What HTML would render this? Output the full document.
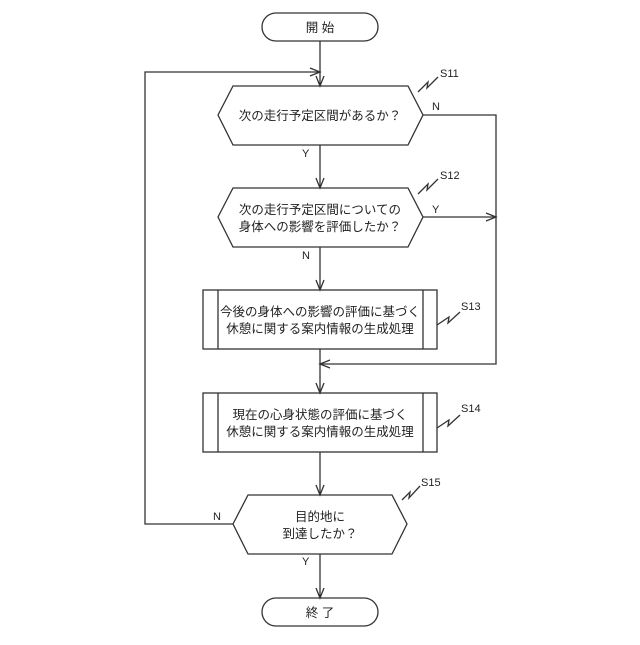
<!DOCTYPE html>
<html><head><meta charset="utf-8"><style>
body{margin:0;background:#fff}
svg text{font-family:"Liberation Sans","Noto Sans CJK JP",sans-serif;fill:#222}
</style></head><body>
<svg width="640" height="640" viewBox="0 0 640 640" xmlns="http://www.w3.org/2000/svg">
<g fill="none" stroke="#333" stroke-width="1.3">
<rect x="262" y="13" width="116" height="28" rx="14"/>
<rect x="262" y="598" width="116" height="28" rx="14"/>
<polygon points="218,115 233,86 408,86 423,115 408,145 233,145"/>
<polygon points="218,217 233,188 408,188 423,217 408,247 233,247"/>
<rect x="203" y="290" width="234" height="59"/><line x1="218" y1="290" x2="218" y2="349"/><line x1="423" y1="290" x2="423" y2="349"/>
<rect x="203" y="393" width="234" height="59"/><line x1="218" y1="393" x2="218" y2="452"/><line x1="423" y1="393" x2="423" y2="452"/>
<polygon points="233,524 248,495 392,495 407,524 392,554 248,554"/>
<!-- main vertical -->
<line x1="320" y1="41" x2="320" y2="86"/>
<line x1="320" y1="145" x2="320" y2="188"/>
<line x1="320" y1="247" x2="320" y2="290"/>
<line x1="320" y1="349" x2="320" y2="393"/>
<line x1="320" y1="452" x2="320" y2="495"/>
<line x1="320" y1="554" x2="320" y2="598"/>
<!-- arrowheads down -->
<polyline points="316,76 320,86 324,76"/>
<polyline points="316,178 320,188 324,178"/>
<polyline points="316,280 320,290 324,280"/>
<polyline points="316,383 320,393 324,383"/>
<polyline points="316,485 320,495 324,485"/>
<polyline points="316,588 320,598 324,588"/>
<!-- right branch -->
<polyline points="423,115 496,115 496,364 320,364"/>
<polyline points="330,360 320,364 330,368"/>
<line x1="423" y1="217" x2="496" y2="217"/>
<polyline points="486,213 496,217 486,221"/>
<!-- left loop -->
<polyline points="233,524 145,524 145,72 320,72"/>
<polyline points="310,68 320,72 310,76"/>
<!-- squiggles -->
<polyline points="418,92 428,82 427,88 438,77"/>
<polyline points="418,194 428,184 427,190 438,179"/>
<polyline points="437,325 449,317 448,323 460,312"/>
<polyline points="437,428 449,420 448,426 460,415"/>
<polyline points="402,500 410,492 409,498 420,486"/>
</g>
<g font-size="12.5" text-anchor="middle">
<text x="320" y="32">開 始</text>
<text x="320" y="617">終 了</text>
<text x="320" y="120">次の走行予定区間があるか？</text>
<text x="320" y="214">次の走行予定区間についての</text>
<text x="320" y="231">身体への影響を評価したか？</text>
<text x="320" y="316">今後の身体への影響の評価に基づく</text>
<text x="320" y="333">休憩に関する案内情報の生成処理</text>
<text x="320" y="419">現在の心身状態の評価に基づく</text>
<text x="320" y="436">休憩に関する案内情報の生成処理</text>
<text x="320" y="521">目的地に</text>
<text x="320" y="538">到達したか？</text>
</g>
<g font-size="11">
<text x="440" y="77">S11</text>
<text x="440" y="179">S12</text>
<text x="461" y="310">S13</text>
<text x="461" y="412">S14</text>
<text x="421" y="486">S15</text>
<text x="432" y="110">N</text>
<text x="302" y="157">Y</text>
<text x="432" y="213">Y</text>
<text x="302" y="259">N</text>
<text x="213" y="520">N</text>
<text x="302" y="565">Y</text>
</g>
</svg>
</body></html>
